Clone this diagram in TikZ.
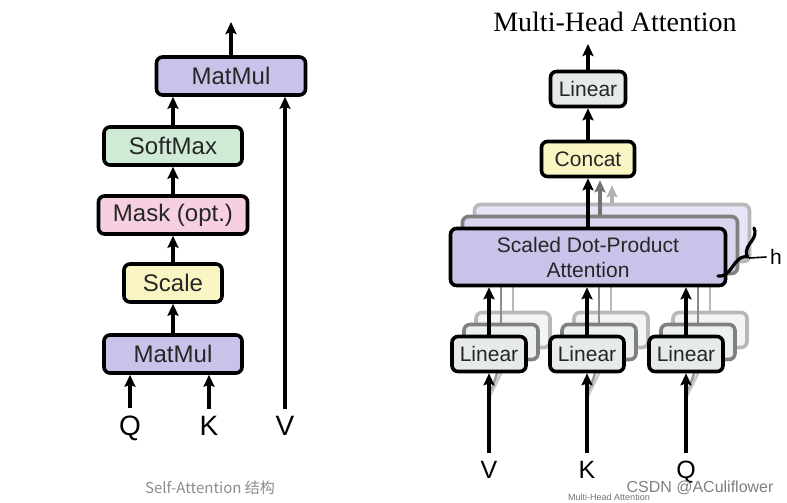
\documentclass[tikz,border=0pt]{standalone}
\usepackage{fontspec}
\setmainfont{Liberation Sans}
\newfontfamily\titlefont{Liberation Serif}
\newfontfamily\cjkfont{Noto Sans CJK SC}
\usepackage{tikz}
\usetikzlibrary{arrows.meta,decorations.pathreplacing}

\definecolor{mmpurple}{HTML}{C8C3E8}
\definecolor{smgreen}{HTML}{CFEBD6}
\definecolor{mkpink}{HTML}{F6CFE0}
\definecolor{scyellow}{HTML}{F9F6C4}
\definecolor{lngray}{HTML}{E6EBEA}

\begin{document}
\begin{tikzpicture}[x=1pt,y=-1pt,
  box/.style={draw, line width=3.6pt, rounded corners=6pt, inner sep=0pt,
    text=black!85, align=center},
  lbox/.style={box, minimum height=38pt, font=\fontsize{24}{24}\selectfont},
  rbox/.style={box, minimum height=35pt, font=\fontsize{21}{25}\selectfont},
  arr/.style={line width=3.3pt, -{Stealth[length=12pt,width=11pt,inset=2pt]}},
  lbl/.style={inner sep=0pt, outer sep=7pt, anchor=base},
  back1/.style={draw=black!50, text opacity=0},
  back2/.style={draw=black!28, text opacity=0}
]
  \useasboundingbox (0,0) rectangle (787,503);

  % self-attention
  \node[lbox, fill=mmpurple, minimum width=138pt] (mm1) at (173,354) {MatMul};
  \node[lbox, fill=scyellow, minimum width=98pt] (scale) at (173,283) {Scale};
  \node[lbox, fill=mkpink, minimum width=149pt] (mask) at (173,215) {Mask (opt.)};
  \node[lbox, fill=smgreen, minimum width=138pt] (softmax) at (173,146) {SoftMax};
  \node[lbox, fill=mmpurple, minimum width=149pt] (mm2) at (231,76) {MatMul};
  \coordinate (out1) at (231,22);

  \node[lbl, font=\fontsize{28}{28}\selectfont] (q) at (130,435) {Q};
  \node[lbl, font=\fontsize{28}{28}\selectfont] (k) at (209,435) {K};
  \node[lbl, font=\fontsize{28}{28}\selectfont] (v) at (285,435) {V};

  \draw[arr] (q.north) -- (mm1.south -| q.north);
  \draw[arr] (k.north) -- (mm1.south -| k.north);
  \draw[arr] (mm1) -- (scale);
  \draw[arr] (scale) -- (mask);
  \draw[arr] (mask) -- (softmax);
  \draw[arr] (softmax.north) -- (mm2.south -| softmax.north);
  \draw[arr] (v.north) -- (mm2.south -| v.north);
  \draw[arr] (mm2) -- (out1);

  \node[text=black!45, font=\cjkfont\fontsize{15}{15}\selectfont] (cap1) at (210,488) {Self-Attention 结构};

  % multi-head attention
  \node[font=\titlefont\fontsize{28}{28}\selectfont] (title) at (615,22) {Multi-Head Attention};
  \node[rbox, fill=lngray, minimum width=75pt] (lin) at (588,89) {Linear};
  \node[rbox, fill=scyellow, minimum width=93pt] (concat) at (588,159) {Concat};
  \coordinate (out2) at (588,44);

  \node[rbox, back2, fill=mmpurple!45, minimum width=275pt, minimum height=57pt] (sdpa2) at (612,233) {};
  \node[rbox, back1, fill=mmpurple!70, minimum width=275pt, minimum height=57pt] (sdpa1) at (600,245) {};
  \draw[arr, black!30, shorten >=7pt] (sdpa2.north) -- (concat.south -| sdpa2.north);
  \draw[arr, black!55, shorten >=2pt] (sdpa1.north) -- (concat.south -| sdpa1.north);

  \foreach \n/\x in {v/489,k/587,q/686}{
    \node[rbox, back2, fill=lngray!50, minimum width=74pt] (lin\n2) at (\x+24,330) {};
    \node[rbox, back1, fill=lngray!75, minimum width=74pt] (lin\n1) at (\x+12,342) {};
    \draw[line width=2.8pt, black!28] (lin\n2.north) -- (sdpa2.south -| lin\n2.north);
    \draw[line width=2.8pt, black!45] (lin\n1.north) -- (sdpa1.south -| lin\n1.north);
    \coordinate (fan\n) at (\x,398);
    \draw[line width=2.5pt, black!40] (fan\n) -- (lin\n1.south);
    \draw[line width=2.5pt, black!22] (fan\n) -- (lin\n2.south);
  }

  \node[rbox, fill=mmpurple, minimum width=275pt, minimum height=57pt] (sdpa) at (588,257) {Scaled Dot-Product\\Attention};

  \foreach \n/\x/\t in {v/489/V,k/587/K,q/686/Q}{
    \node[rbox, fill=lngray, minimum width=74pt] (lin\n) at (\x,354) {Linear};
    \node[lbl, outer sep=8pt, font=\fontsize{25}{25}\selectfont] (in\n) at (\x,478) {\t};
    \draw[arr] (in\n.north) -- (lin\n.south);
    \draw[arr] (lin\n.north) -- (sdpa.south -| lin\n.north);
  }

  \draw[arr] (sdpa.north) -- (concat.south);
  \draw[arr] (concat) -- (lin);
  \draw[arr] (lin) -- (out2);

  \draw[line width=3.2pt, line cap=round, decorate, decoration={brace, amplitude=12pt, aspect=0.45}] (754,228) -- (718,276);
  \coordinate (htip) at (749,258);
  \node[font=\fontsize{21}{21}\selectfont] (h) at (776,257) {h};
  \draw[line width=1.6pt] (htip) -- (h.west);

  \node[text=black!50, font=\fontsize{16}{16}\selectfont] (mark) at (700,488) {CSDN @ACuliflower};
  \node[text=black!55, font=\fontsize{9}{9}\selectfont] (cap2) at (609,497) {Multi-Head Attention};
\end{tikzpicture}
\end{document}
